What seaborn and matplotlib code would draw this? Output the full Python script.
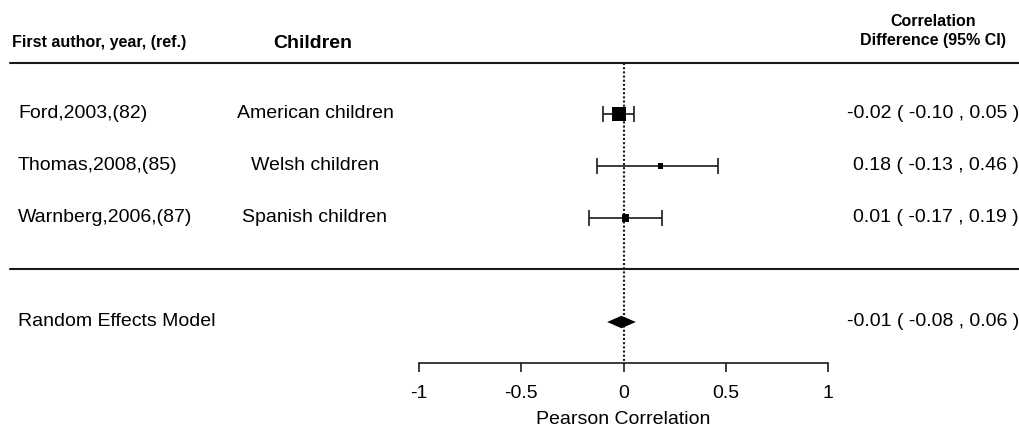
import numpy as np
import matplotlib
matplotlib.use("Agg")
import matplotlib.pyplot as plt
import matplotlib.transforms as mtransforms
import seaborn as sns
import pandas as pd

studies = ["Ford,2003,(82)", "Thomas,2008,(85)", "Warnberg,2006,(87)"]
groups = ["American children", "Welsh children", "Spanish children"]
est = [-0.02, 0.18, 0.01]
lo = [-0.10, -0.13, -0.17]
hi = [0.05, 0.46, 0.19]
weights = [69, 10, 21]  # rough relative weights
pooled = {"label": "Random Effects Model", "est": -0.01, "lo": -0.08, "hi": 0.06}
xticks = [-1, -0.5, 0, 0.5, 1]
xticklabels = ["-1", "-0.5", "0", "0.5", "1"]

df = pd.DataFrame({"study": studies, "group": groups, "est": est,
                   "lo": lo, "hi": hi, "weight": weights,
                   "row": np.arange(len(studies))})

sns.set_theme(style="white")
plt.rcParams["font.family"] = ["Liberation Sans", "DejaVu Sans"]
plt.rcParams["text.color"] = "black"

W, H = 1020, 432
fig = plt.figure(figsize=(W / 100, H / 100), dpi=100)
ax = fig.add_axes([0, 0, 1, 1])

# map data so that -1 sits at 419px and 1 at 828px, rows 52px apart from 114px
scale = (828 - 419) / 2
ax.set_xlim(-1 - 419 / scale, 1 + (W - 828) / scale)
row0, rowh = 114, 52
ax.set_ylim((H - row0) / rowh, -row0 / rowh)
ink = "#1a1a1a"

def py(px):
    return (px - row0) / rowh

rem_row = 4
axis_row = py(363)

# reference line at zero
ax.plot([0, 0], [py(63), axis_row], color=ink, lw=1.5, ls=(0, (1, 1)), zorder=1)

# confidence intervals
ax.errorbar(df["est"], df["row"],
            xerr=[df["est"] - df["lo"], df["hi"] - df["est"]],
            fmt="none", ecolor=ink, elinewidth=1.2, capsize=5.5, capthick=1.2, zorder=2)
sns.scatterplot(data=df, x="est", y="row", size="weight", sizes=(14, 100),
                marker="s", color="black", edgecolor="black", linewidth=0,
                legend=False, ax=ax, zorder=3)

# pooled diamond
dh = 0.12
ax.fill([pooled["lo"], pooled["est"], pooled["hi"], pooled["est"]],
        [rem_row, rem_row - dh, rem_row, rem_row + dh], color="black", lw=0, zorder=3)

# separators
bt = mtransforms.blended_transform_factory(ax.transAxes, ax.transData)
for yy in (py(63), py(269)):
    ax.plot([10 / W, 1], [yy, yy], color=ink, lw=1.5, transform=bt, clip_on=False)

# text columns
for _, r in df.iterrows():
    ax.text(18 / W, r["row"], r["study"], transform=bt, ha="left", va="center", fontsize=14)
    ax.text(315 / W, r["row"], r["group"], transform=bt, ha="center", va="center", fontsize=14)
    ax.text(1019 / W, r["row"],
            f"{r['est']:.2f} ( {r['lo']:.2f} , {r['hi']:.2f} )",
            transform=bt, ha="right", va="center", fontsize=14)
ax.text(18 / W, rem_row, pooled["label"], transform=bt, ha="left", va="center", fontsize=14)
ax.text(1019 / W, rem_row,
        f"{pooled['est']:.2f} ( {pooled['lo']:.2f} , {pooled['hi']:.2f} )",
        transform=bt, ha="right", va="center", fontsize=14)

# headers
ax.text(12 / W, py(43), "First author, year, (ref.)", transform=bt, ha="left",
        va="center", fontsize=11.5, fontweight="bold")
ax.text(313 / W, py(43), "Children", transform=bt, ha="center", va="center",
        fontsize=14, fontweight="bold")
ax.text(933 / W, py(31), "Correlation\nDifference (95% CI)", transform=bt,
        ha="center", va="center", multialignment="center", linespacing=1.35,
        fontsize=11.5, fontweight="bold")

# x axis
for s in ("top", "left", "right"):
    ax.spines[s].set_visible(False)
ax.spines["bottom"].set_position(("data", axis_row))
ax.spines["bottom"].set_bounds(-1, 1)
ax.spines["bottom"].set_color(ink)
ax.spines["bottom"].set_linewidth(1.2)
ax.set_xticks(xticks)
ax.set_xticklabels(xticklabels)
ax.tick_params(axis="x", bottom=True, direction="out", length=6.5, width=1.2,
               color=ink, pad=9, labelsize=14, labelcolor="black")
ax.set_yticks([])
ax.set_ylabel("")
ax.set_xlabel("Pearson Correlation", fontsize=14, color="black")
ax.xaxis.label.set_va("center")
ax.xaxis.set_label_coords(623 / W, 1 - 419 / H)
ax.set_facecolor("white")
fig.patch.set_facecolor("white")

fig.savefig("out.png", dpi=100)
